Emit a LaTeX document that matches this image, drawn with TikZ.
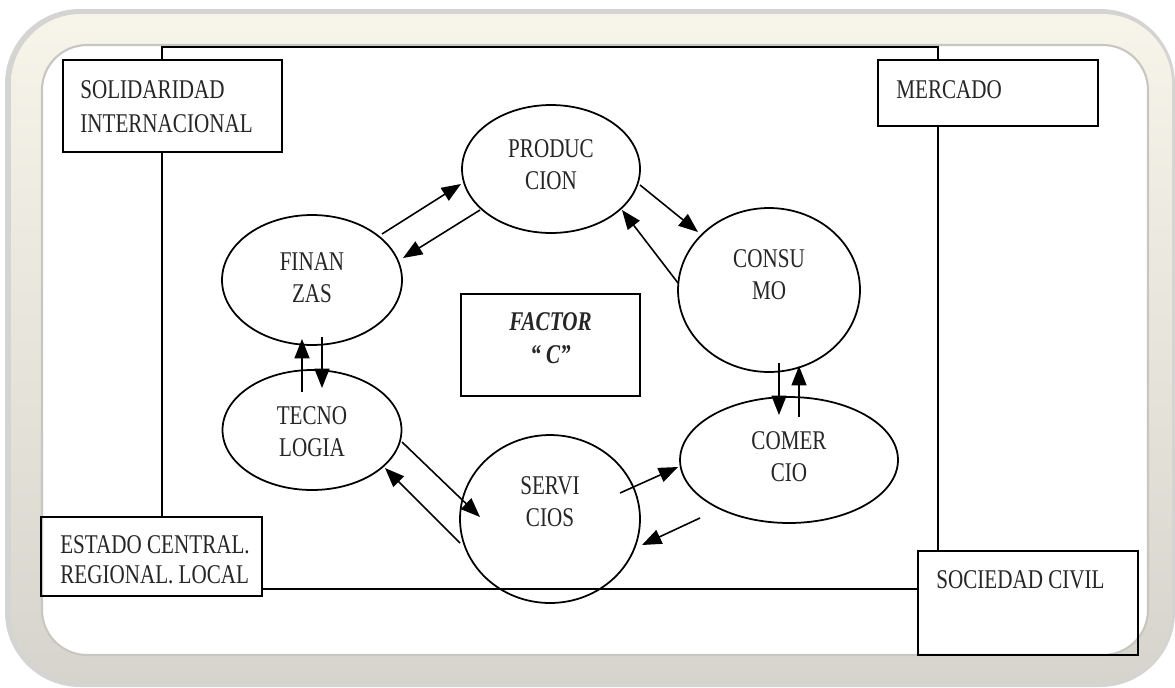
\documentclass[tikz,border=0pt]{standalone}
\usepackage{fontspec}
\setmainfont{Liberation Serif}[FakeStretch=0.78]
\usetikzlibrary{arrows.meta,calc,shapes.geometric}
\definecolor{framegray}{RGB}{214,212,204}
\definecolor{framecream}{RGB}{247,245,234}
\definecolor{shadowgray}{RGB}{212,212,210}
\definecolor{bevel}{RGB}{200,198,192}
\begin{document}
\begin{tikzpicture}[x=0.02cm,y=-0.02cm,
  box/.style={draw, line width=1.1pt, rectangle, inner sep=0pt},
  oval/.style={draw, line width=1pt, ellipse, inner sep=0pt},
  lbl/.style={inner sep=0pt, align=left, text=black!85},
  otext/.style={inner sep=0pt, align=center, text=black!85, font=\fontsize{15.4}{18.2}\selectfont},
  conn/.style={line width=1.1pt},
  arr/.style={line width=0.9pt, -{Triangle[length=11pt,width=8.5pt]}},
]
\useasboundingbox (0,0) rectangle (1175,687);
% frame
\fill[shadowgray, rounded corners=1.5cm] (5,9) rectangle (1175,687);
\shade[top color=framecream, bottom color=framegray, rounded corners=1.4cm] (11,14) rectangle (1172,683);
\fill[white, rounded corners=0.9cm] (42,45) rectangle (1148,655);
\draw[bevel, line width=1.2pt, rounded corners=0.9cm] (42,45) rectangle (1148,655);

% outer boxes
\node[box, minimum width=4.38cm, minimum height=1.84cm] (sol) at (172.5,106) {};
\node[lbl, anchor=north west, font=\fontsize{15.4}{19.3}\selectfont] (soltxt) at (80,80) {SOLIDARIDAD\\INTERNACIONAL};
\node[box, minimum width=4.4cm, minimum height=1.32cm] (merc) at (988,93) {};
\node[lbl, anchor=north west, font=\fontsize{15.4}{19.3}\selectfont] (merctxt) at (896,80) {MERCADO};
\node[box, minimum width=4.42cm, minimum height=1.58cm] (est) at (151.5,556.5) {};
\node[lbl, anchor=north west, font=\fontsize{15.4}{17}\selectfont] (esttxt) at (60,535) {ESTADO CENTRAL.\\REGIONAL. LOCAL};
\node[box, minimum width=4.4cm, minimum height=2.08cm] (soc) at (1028,603) {};
\node[lbl, anchor=north west, font=\fontsize{15.4}{19.3}\selectfont] (soctxt) at (936,570) {SOCIEDAD CIVIL};

% connecting frame lines
\coordinate (tl) at (162,47);
\coordinate (tr) at (938,47);
\coordinate (bl) at (262,589);
\draw[conn] (sol.north -| tl) -- (tl) -- (tr) -- (merc.north -| tr);
\draw[conn] (sol.south -| tl) -- (est.north -| tl);
\draw[conn] (merc.south -| tr) -- (soc.north -| tr);
\draw[conn] (est.east |- bl) -- (soc.west |- bl);

% center box
\node[box, minimum width=3.58cm, minimum height=2.04cm] (fac) at (550.5,345) {};
\node[otext, font=\fontsize{15.4}{18.5}\selectfont\bfseries\itshape] (factxt) at ($(fac)+(0,-7)$) {FACTOR\\“ C”};

% ellipses
\node[oval, minimum width=3.56cm, minimum height=2.56cm] (prod) at (551,169) {};
\node[otext] (prodtxt) at ($(prod)+(0,-4)$) {PRODUC\\CION};
\node[oval, minimum width=3.6cm, minimum height=2.6cm] (fin) at (312,280) {};
\node[otext] (fintxt) at ($(fin)+(0,-2)$) {FINAN\\ZAS};
\node[oval, minimum width=3.58cm, minimum height=2.4cm] (tec) at (312,430) {};
\node[otext] (tectxt) at ($(tec)+(0,2)$) {TECNO\\LOGIA};
\node[oval, minimum width=3.64cm, minimum height=3.28cm] (cons) at (769,290) {};
\node[otext] (constxt) at ($(cons)+(0,-15)$) {CONSU\\MO};
\node[oval, minimum width=4.36cm, minimum height=2.52cm] (com) at (789,460) {};
\node[otext] (comtxt) at ($(com)+(0,-3)$) {COMER\\CIO};
\node[oval, minimum width=3.6cm, minimum height=3.36cm] (serv) at (550,519) {};
\node[otext] (servtxt) at ($(serv)+(0,-17)$) {SERVI\\CIOS};

% arrows
\draw[arr] ($(fin)+(70,-46)$) -- ($(prod)+(-90,15)$);
\draw[arr] ($(prod)+(-71,41)$) -- ($(fin)+(91,-22)$);
\draw[arr] ($(prod)+(89,16)$) -- ($(cons)+(-71,-58)$);
\draw[arr] ($(cons)+(-91,-7)$) -- ($(prod)+(71,41)$);
\draw[arr] ($(tec)+(-10,-38)$) -- ($(fin)+(-10,59)$);
\draw[arr] ($(fin)+(10,57)$) -- ($(tec)+(10,-42)$);
\draw[arr] ($(cons)+(10,73)$) -- ($(com)+(-10,-45)$);
\draw[arr] ($(com)+(10,-43)$) -- ($(cons)+(30,76)$);
\draw[arr] ($(tec)+(90,12)$) -- ($(serv)+(-70,-2)$);
\draw[arr] ($(serv)+(-90,24)$) -- ($(tec)+(73,38)$);
\draw[arr] ($(serv)+(70,-26)$) -- ($(com)+(-111,7)$);
\draw[arr] ($(com)+(-89,58)$) -- ($(serv)+(92,26)$);
\end{tikzpicture}
\end{document}
